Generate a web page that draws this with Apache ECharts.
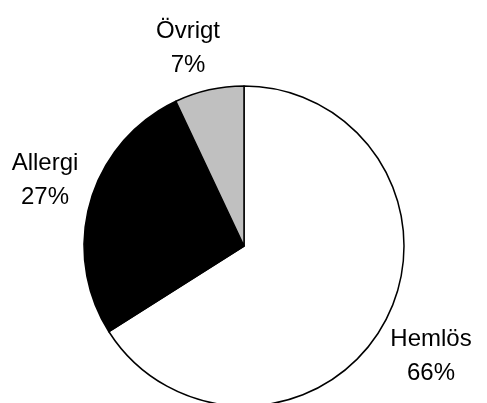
<!DOCTYPE html>
<html><head><meta charset="utf-8">
<script src="https://cdn.jsdelivr.net/npm/echarts@6/dist/echarts.min.js"></script>
<style>html,body{margin:0;padding:0;background:#fff}#c{width:487px;height:403px}</style>
</head><body><div id="c"></div>
<script>
const categories = ['Hemlös', 'Allergi', 'Övrigt'];
const values = [66, 27, 7];
const colors = ['#ffffff', '#000000', '#c0c0c0'];
const labelPos = [[431, 356], [45, 180], [188, 48]];

const chart = echarts.init(document.getElementById('c'), null, {renderer: 'canvas'});
chart.setOption({
  animation: false,
  backgroundColor: '#ffffff',
  series: [{
    type: 'pie',
    center: [244, 246],
    radius: 160,
    startAngle: 90,
    clockwise: true,
    data: categories.map((n, i) => ({name: n, value: values[i], itemStyle: {color: colors[i]}})),
    itemStyle: {borderColor: '#000', borderWidth: 1.5},
    label: {
      show: true,
      position: 'outside',
      formatter: '{b}\n{c}%',
      fontFamily: 'Liberation Sans, Arial, sans-serif',
      fontSize: 24,
      lineHeight: 34,
      color: '#000',
      align: 'center',
      overflow: 'none',
      width: 200
    },
    labelLine: {show: false},
    labelLayout: function (p) {
      const pos = labelPos[p.dataIndex];
      return {x: pos[0], y: pos[1], align: 'center', verticalAlign: 'middle', hideOverlap: false, moveOverlap: null};
    },
    emphasis: {disabled: true}
  }]
});
</script></body></html>
